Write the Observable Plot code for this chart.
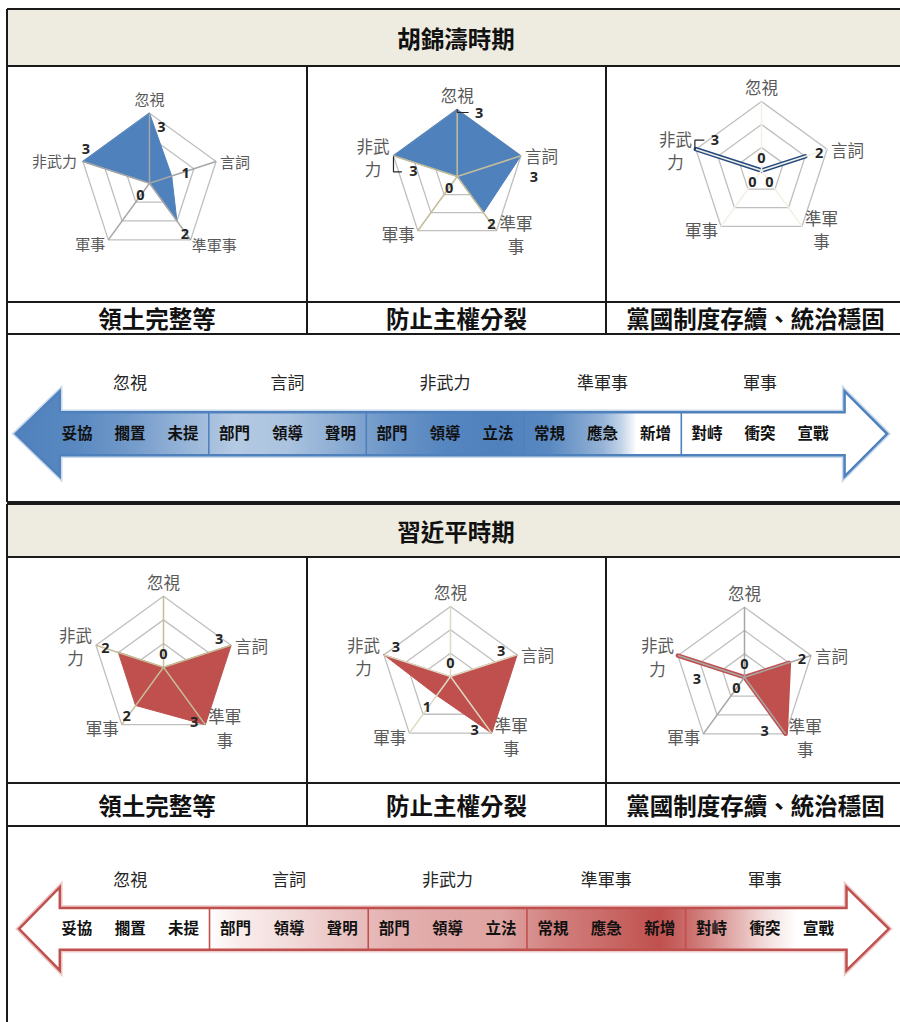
<!DOCTYPE html>
<html><head><meta charset="utf-8">
<script src="https://cdn.jsdelivr.net/npm/d3@7"></script>
<script src="https://cdn.jsdelivr.net/npm/@observablehq/plot@0.6"></script>
<style>
body{margin:0;background:#fff;overflow:hidden;}
#page{position:relative;width:900px;height:1022px;overflow:hidden;font-family:"Noto Sans CJK TC","Noto Sans CJK SC",sans-serif;}
.abs{position:absolute;}
.cellText{display:flex;align-items:center;justify-content:center;font-weight:700;font-size:23.5px;color:#111;white-space:nowrap;}
</style></head>
<body><div id="page"></div>
<script>
// ---------------- DATA ----------------
const periodTitles = ["胡錦濤時期", "習近平時期"];
const goalLabels = ["領土完整等", "防止主權分裂", "黨國制度存續、統治穩固"];
const axisNames = ["忽視", "言詞", "準軍事", "軍事", "非武力"];   // radar order, clockwise from top
// values per radar (order = axisNames)
const hu_territory   = [3, 1, 2, 0, 3];
const hu_sovereignty = [3, 3, 2, 0, 3];
const hu_regime      = [0, 2, 0, 0, 3];
const xi_territory   = [0, 3, 3, 2, 2];
const xi_sovereignty = [0, 3, 3, 1, 3];
const xi_regime      = [0, 2, 3, 0, 3];
// escalation arrow
const levelGroups = ["忽視", "言詞", "非武力", "準軍事", "軍事"];
const levelSubs = ["妥協", "擱置", "未提", "部門", "領導", "聲明", "部門", "領導", "立法", "常規", "應急", "新增", "對峙", "衝突", "宣戰"];
// shading intensity along the arrow (position in sub-level units, 0 = white, 1 = full colour)
const huShadePos = [-0.7, 0.5, 1.5, 2.5, 3.5, 4.5, 5.5, 6.5, 7.5, 8.5, 9.5, 10.5, 10.85, 11.15, 16.5];
const huShadeVal = [1, 0.94, 0.8, 0.6, 0.42, 0.48, 0.66, 0.85, 0.96, 1, 0.94, 0.6, 0.35, 0, 0];
const xiShadePos = [-0.7, 3.0, 3.5, 4.5, 5.5, 6.5, 7.5, 8.5, 9.5, 10.5, 11.5, 12.0, 12.5, 13.5, 14.1, 16.5];
const xiShadeVal = [0, 0, 0.1, 0.2, 0.33, 0.45, 0.5, 0.52, 0.72, 0.85, 1, 0.85, 0.65, 0.2, 0, 0];

// ---------------- LAYOUT / STYLE ----------------
const BLUE = "#4f81bd", RED = "#c0504d";
const colX = [7, 307, 606, 905];
const tables = [
  {top: 9, hdrB: 66, radB: 302, lblB: 334, bottom: 502},
  {top: 504, hdrB: 557, radB: 783, lblB: 826, bottom: 1040}
];
const page = document.getElementById("page");
function box(x, y, w, h, css) {
  const d = document.createElement("div");
  d.className = "abs";
  Object.assign(d.style, {left: x + "px", top: y + "px", width: w + "px", height: h + "px"}, css || {});
  page.appendChild(d);
  return d;
}

// header backgrounds + texts
tables.forEach((t, ti) => {
  const h = box(colX[0], t.top, colX[3] - colX[0], t.hdrB - t.top, {background: "#eeece1"});
  h.classList.add("cellText"); h.textContent = periodTitles[ti];
  goalLabels.forEach((g, ci) => {
    const c = box(colX[ci], t.radB, colX[ci + 1] - colX[ci], t.lblB - t.radB);
    c.classList.add("cellText"); c.textContent = g;
  });
});

// ---------------- RADARS ----------------
const ang = i => (-90 + 72 * i) * Math.PI / 180;
const pt = (i, v) => ({x: v * Math.cos(ang(i)), y: -v * Math.sin(ang(i))});

function radar(cfg) {
  const {values, ti, ci, cx, cy, r, fill, stroke, strokeWidth, spoke, fs, wrap, offs, leaders} = cfg;
  const t = tables[ti];
  const left = colX[ci], top = t.hdrB, width = colX[ci + 1] - colX[ci], height = t.radB - t.hdrB;
  const k = r / 3, ox = cx - left, oy = cy - top;
  const rings = [1, 2, 3].flatMap(l => axisNames.map((a, i) => ({l, ...pt(i, l)})));
  const spokes = axisNames.map((a, i) => pt(i, 3));
  const poly = values.map((v, i) => pt(i, v));
  const marks = [
    Plot.line(rings, {x: "x", y: "y", z: "l", curve: "linear-closed", stroke: "#bfbfbf", strokeWidth: 1.3}),
    Plot.line(poly, {x: "x", y: "y", curve: "linear-closed", fill, stroke, strokeWidth}),
    Plot.link(spokes, {x1: () => 0, y1: () => 0, x2: "x", y2: "y", stroke: spoke, strokeWidth: 1.5})
  ];
  // leader lines
  (leaders || []).forEach(L => {
    const p = pt(L.axis, values[L.axis]);
    marks.push(Plot.line(L.path.map(([dx, dy]) => ({x: p.x + dx / k, y: p.y - dy / k})),
      {x: "x", y: "y", stroke: "#262626", strokeWidth: 1.2, strokeLinejoin: "miter"}));
  });
  // data labels
  const dl = values.map((v, i) => {
    const p = pt(i, v);
    return {x: p.x + offs[i][0] / k, y: p.y - offs[i][1] / k, t: String(v)};
  });
  marks.push(Plot.text(dl, {x: "x", y: "y", text: "t", fontSize: 14.5, fontWeight: "bold",
    fill: "#262626", fontFamily: "Open Sans, sans-serif"}));
  // category labels
  axisNames.forEach((name, i) => {
    const v = pt(i, 3);
    let s;
    if (i === 0) s = {text: name, a: "middle", dx: 0, dy: -15};
    else if (i === 1) s = {text: name, a: "start", dx: 4, dy: 0};
    else if (i === 2) s = wrap ? {text: name.slice(0, 2) + "\n" + name.slice(2), a: "middle", dx: 3 + fs, dy: 3}
                               : {text: name, a: "start", dx: 1, dy: 4};
    else if (i === 3) s = {text: name, a: "end", dx: -3, dy: 3};
    else s = wrap ? {text: name.slice(0, 2) + "\n" + name.slice(2), a: "middle", dx: -4 - fs, dy: 1}
                  : {text: name, a: "end", dx: -6, dy: -1};
    marks.push(Plot.text([v], {x: "x", y: "y", text: () => s.text, textAnchor: s.a, lineAnchor: "middle",
      dx: s.dx, dy: s.dy, fontSize: fs, lineHeight: 1.4, fill: "#595959",
      fontFamily: "Noto Sans CJK TC, sans-serif"}));
  });
  const svg = Plot.plot({
    width, height, margin: 0,
    x: {axis: null, domain: [-ox / k, (width - ox) / k], range: [0, width]},
    y: {axis: null, domain: [(oy - height) / k, oy / k], range: [height, 0]},
    style: {background: "transparent", overflow: "visible"},
    marks
  });
  const holder = box(left, top, width, height);
  holder.appendChild(svg);
}

const radars = [
  {values: hu_territory, ti: 0, ci: 0, cx: 149, cy: 182.7, r: 70, fill: BLUE, stroke: BLUE, strokeWidth: 1,
   spoke: "#a6a6a6", fs: 15, wrap: false, offs: [[12, 14], [14, -3], [8, 13], [-9, 12], [3, -12]]},
  {values: hu_sovereignty, ti: 0, ci: 1, cx: 456.7, cy: 176, r: 67, fill: BLUE, stroke: BLUE, strokeWidth: 1,
   spoke: "#c4bd97", fs: 16.5, wrap: true, offs: [[22, 4], [13, 22], [8, 12], [-8, 12], [20, 16]],
   leaders: [{axis: 0, path: [[0, 0], [0, 3], [11, 3]]}, {axis: 4, path: [[0, 1], [0, 16], [8, 16]]}]},
  {values: hu_regime, ti: 0, ci: 2, cx: 761, cy: 170, r: 69, fill: BLUE, stroke: "#254a80", strokeWidth: 4.5,
   spoke: "#f2f0e6", fs: 16.5, wrap: true, offs: [[0, -12], [14, -3], [8, 12], [-9, 12], [19, -9]],
   leaders: [{axis: 4, path: [[-1, 0], [-1, -9], [8, -9]]}]},
  {values: xi_territory, ti: 1, ci: 0, cx: 163, cy: 666.7, r: 71, fill: RED, stroke: RED, strokeWidth: 1,
   spoke: "#c4bd97", fs: 16.5, wrap: true, offs: [[0, -13], [-12, -6], [-11, -2], [-9, 11], [-13, -4]]},
  {values: xi_sovereignty, ti: 1, ci: 1, cx: 450, cy: 676, r: 70, fill: RED, stroke: RED, strokeWidth: 1,
   spoke: "#ddd9c3", fs: 16.5, wrap: true, offs: [[0, -13], [-16, -4], [-17, -3], [-10, 12], [12, -8]]},
  {values: xi_regime, ti: 1, ci: 2, cx: 744, cy: 676.7, r: 70, fill: RED, stroke: RED, strokeWidth: 4.5,
   spoke: "#a6a6a6", fs: 16.5, wrap: true, offs: [[0, -13], [13, -3], [-21, -2], [-8, 11], [19, 24]]}
];
radars.forEach(radar);

// ---------------- ARROWS ----------------
function arrow(cfg) {
  const {ti, id, base, x0, x15, yc, unit, tip, hb, rb, rt, hh, groupY, shadePos, shadeVal} = cfg;
  const t = tables[ti];
  const top = t.lblB, height = Math.min(t.bottom, 1022) - t.lblB, width = 900;
  const ycr = yc - top;
  const outline = [[tip, 0], [hb, hh], [hb, 1], [rb, 1], [rb, hh], [rt, 0], [rb, -hh], [rb, -1], [hb, -1], [hb, -hh]]
    .map(([x, y]) => ({x, y}));
  const marks = [
    Plot.line(outline, {x: "x", y: "y", curve: "linear-closed", fill: "none", stroke: base, strokeOpacity: 0.3,
      strokeWidth: 5.5, strokeLinejoin: "miter", strokeMiterlimit: 4}),
    Plot.line(outline, {x: "x", y: "y", curve: "linear-closed", fill: `url(#${id})`, stroke: base,
      strokeWidth: 2.5, strokeLinejoin: "miter", strokeMiterlimit: 4}),
    Plot.ruleX([3, 6, 9, 12], {x: d => d, y1: () => -1, y2: () => 1, stroke: base, strokeWidth: 1.6}),
    Plot.text(levelGroups, {x: (d, i) => i * 3 + 1.5, y: () => groupY, text: d => d, fontSize: 17,
      fill: "#262626", fontFamily: "Noto Sans CJK TC, sans-serif"}),
    Plot.text(levelSubs, {x: (d, i) => Math.floor(i / 3) * 3 + 1.5 + (i % 3 - 1) * 1.01, y: () => 0, text: d => d,
      fontSize: 15.5, fontWeight: "bold", fill: "#111", fontFamily: "Noto Sans CJK TC, sans-serif"})
  ];
  const svg = Plot.plot({
    width, height, margin: 0,
    x: {axis: null, domain: [0, 15], range: [x0, x15]},
    y: {axis: null, domain: [(ycr - height) / unit, ycr / unit], range: [height, 0]},
    style: {background: "transparent", overflow: "visible"},
    marks
  });
  const xs = svg.scale("x");
  const defs = d3.select(svg).insert("defs", ":first-child");
  const g = defs.append("linearGradient").attr("id", id).attr("gradientUnits", "userSpaceOnUse")
    .attr("x1", 0).attr("x2", width).attr("y1", 0).attr("y2", 0);
  const interp = d3.interpolateRgb("#ffffff", base);
  shadePos.forEach((p, j) => {
    const off = Math.max(0, Math.min(1, xs.apply(p) / width));
    g.append("stop").attr("offset", off).attr("stop-color", interp(shadeVal[j]));
  });
  const holder = box(0, top, width, height);
  holder.appendChild(svg);
}
arrow({ti: 0, id: "gradHu", base: BLUE, x0: 50.8, x15: 838.3, yc: 433.3, unit: 21.5,
  tip: -0.68, hb: 0.16, rb: 15.11, rt: 15.92, hh: 1.98, groupY: 2.33, shadePos: huShadePos, shadeVal: huShadeVal});
arrow({ti: 1, id: "gradXi", base: RED, x0: 50.3, x15: 843.9, yc: 928.3, unit: 20.9,
  tip: -0.6, hb: 0.17, rb: 15.04, rt: 15.84, hh: 1.99, groupY: 2.31, shadePos: xiShadePos, shadeVal: xiShadeVal});

// ---------------- TABLE LINES ----------------
const LC = "#1a1a1a";
tables.forEach(t => {
  [t.top, t.hdrB, t.radB, t.lblB, t.bottom].forEach(y => box(colX[0], y - 0.75, colX[3] - colX[0], 1.5, {background: LC}));
  box(colX[0] - 0.75, t.top, 1.5, t.bottom - t.top, {background: LC});
  box(colX[3] - 0.75, t.top, 1.5, t.bottom - t.top, {background: LC});
  [colX[1], colX[2]].forEach(x => box(x - 0.75, t.hdrB, 1.5, t.lblB - t.hdrB, {background: LC}));
});
</script>
</body></html>
